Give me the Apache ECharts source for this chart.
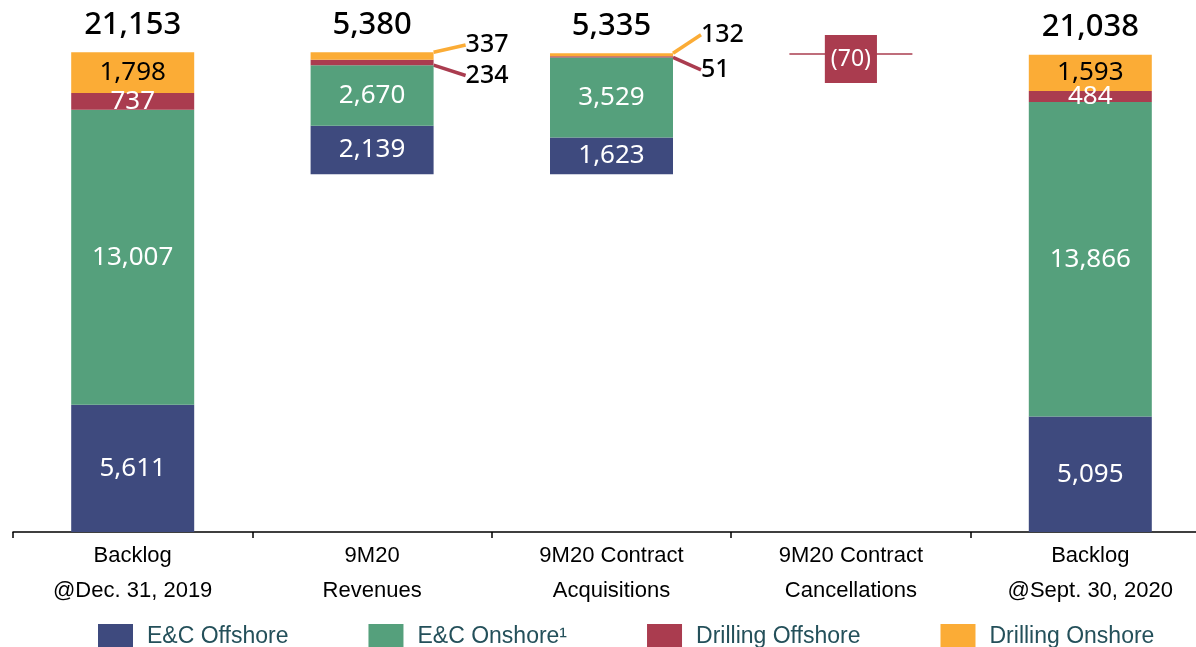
<!DOCTYPE html>
<html>
<head>
<meta charset="utf-8">
<script src="https://cdn.jsdelivr.net/npm/echarts@6/dist/echarts.min.js"></script>
<style>
html, body { margin: 0; padding: 0; background: #fff; }
#main { width: 1196px; height: 647px; }
</style>
</head>
<body>
<div id="main"></div>
<script>
var categories = ['Backlog\n@Dec. 31, 2019', '9M20\nRevenues', '9M20 Contract\nAcquisitions', '9M20 Contract\nCancellations', 'Backlog\n@Sept. 30, 2020']
var ecOffshore = [5611, 2139, 1623, '-', 5095]
var ecOnshore = [13007, 2670, 3529, '-', 13866]
var drillOffshore = [737, 234, 51, 70, 484]
var drillOnshore = [1798, 337, 132, '-', 1593]
var legendNames = ['E&C Offshore', 'E&C Onshore\u00b9', 'Drilling Offshore', 'Drilling Onshore']
var colors = ['#3e4a7e', '#55a07c', '#aa3c4f', '#fbac36']

var numFont = '"Noto Sans", sans-serif'
var axisFont = '"Liberation Sans", sans-serif'

function num(v) {
    return v === '-' ? 0 : v
}

function fmt(v) {
    return v.toLocaleString('en-US')
}

// waterfall: start, minus revenues, plus acquisitions, minus cancellations
function getBase() {
    var totals = [], base = []
    for (var i = 0; i < categories.length; i++) {
        totals.push(num(ecOffshore[i]) + num(ecOnshore[i]) + num(drillOffshore[i]) + num(drillOnshore[i]))
    }
    var level = totals[0] - totals[1]
    base.push(0)
    base.push(level)
    base.push(level)
    base.push(level + totals[2] - totals[3])
    base.push(0)
    return { totals: totals, base: base }
}

var wf = getBase()

function moveSide(up) {
    return function (params) {
        var i = params.dataIndex
        if (i === 3 && !up) return { dy: 5 }
        if (i !== 1 && i !== 2) return {}
        var dy
        if (up) dy = i === 1 ? -11 : -20
        else dy = 13
        return { dy: dy, dx: i === 2 ? -4 : 0 }
    }
}

function sideLabel(i) {
    // floating bars get small labels on the right
    if (i === 1 || i === 2) {
        return {
            show: true, position: 'right', distance: 32,
            color: '#000', fontSize: 25, fontWeight: 500, fontFamily: numFont,
            formatter: function (p) { return fmt(p.value) }
        }
    }
    return null
}

function valLabel(color) {
    return { show: true, color: color, fontSize: 26, fontFamily: numFont, formatter: function (p) { return fmt(p.value) } }
}

var option = {
    animation: false,
    grid: { left: 13, right: -14, top: 33, bottom: 115, outerBoundsMode: 'none', containLabel: false },
    legend: {
        data: legendNames,
        top: 619,
        left: 93,
        itemWidth: 35,
        itemHeight: 25,
        itemGap: 80,
        icon: 'rect',
        textStyle: { fontSize: 23, color: '#24505a', fontFamily: axisFont, padding: [0, 0, 0, 9] }
    },
    xAxis: {
        type: 'category',
        data: categories,
        axisLine: { lineStyle: { color: '#000', width: 1.5 } },
        axisTick: { show: true, length: 6, lineStyle: { color: '#000', width: 1.5 } },
        axisLabel: { color: '#000', fontSize: 22, lineHeight: 35, margin: 6, fontFamily: axisFont }
    },
    yAxis: { type: 'value', min: 0, max: 22000, show: false, splitLine: { show: false } },
    series: [
        {
            name: 'base', type: 'bar', stack: 'w', barWidth: 123,
            itemStyle: { color: 'transparent' },
            data: wf.base
        },
        {
            name: legendNames[0], type: 'bar', stack: 'w', barWidth: 123,
            itemStyle: { color: colors[0] },
            label: valLabel('#fff'),
            data: ecOffshore
        },
        {
            name: legendNames[1], type: 'bar', stack: 'w', barWidth: 123,
            itemStyle: { color: colors[1] },
            label: valLabel('#fff'),
            data: ecOnshore
        },
        {
            name: legendNames[2], type: 'bar', stack: 'w', barWidth: 123,
            itemStyle: { color: colors[2] },
            label: valLabel('#fff'),
            labelLine: { show: true, lineStyle: { color: colors[2], width: 3.5 } },
            labelLayout: moveSide(false),
            data: drillOffshore.map(function (v, i) {
                var lab = sideLabel(i)
                if (i === 3) {
                    lab = {
                        show: true, position: 'inside',
                        backgroundColor: colors[2], padding: [13, 6, 12, 6],
                        color: '#fff', fontSize: 23, fontFamily: numFont,
                        formatter: function (p) { return '(' + p.value + ')' }
                    }
                }
                return lab ? { value: v, label: lab, labelLine: { show: i !== 3 } } : v
            })
        },
        {
            name: legendNames[3], type: 'bar', stack: 'w', barWidth: 123,
            itemStyle: { color: colors[3] },
            label: valLabel('#000'),
            labelLine: { show: true, lineStyle: { color: colors[3], width: 3.5 } },
            labelLayout: moveSide(true),
            data: drillOnshore.map(function (v, i) {
                var lab = sideLabel(i)
                return lab ? { value: v, label: lab } : v
            })
        },
        {
            name: 'total', type: 'bar', stack: 'w', barWidth: 123,
            itemStyle: { color: 'transparent' },
            label: {
                show: true, position: 'top', distance: 12,
                color: '#000', fontSize: 31, fontWeight: 500, fontFamily: numFont,
                formatter: function (p) { return fmt(wf.totals[p.dataIndex]) }
            },
            data: [0, 0, 0, '-', 0]
        }
    ]
}

var chart = echarts.init(document.getElementById('main'))
chart.setOption(option)
</script>
</body>
</html>
